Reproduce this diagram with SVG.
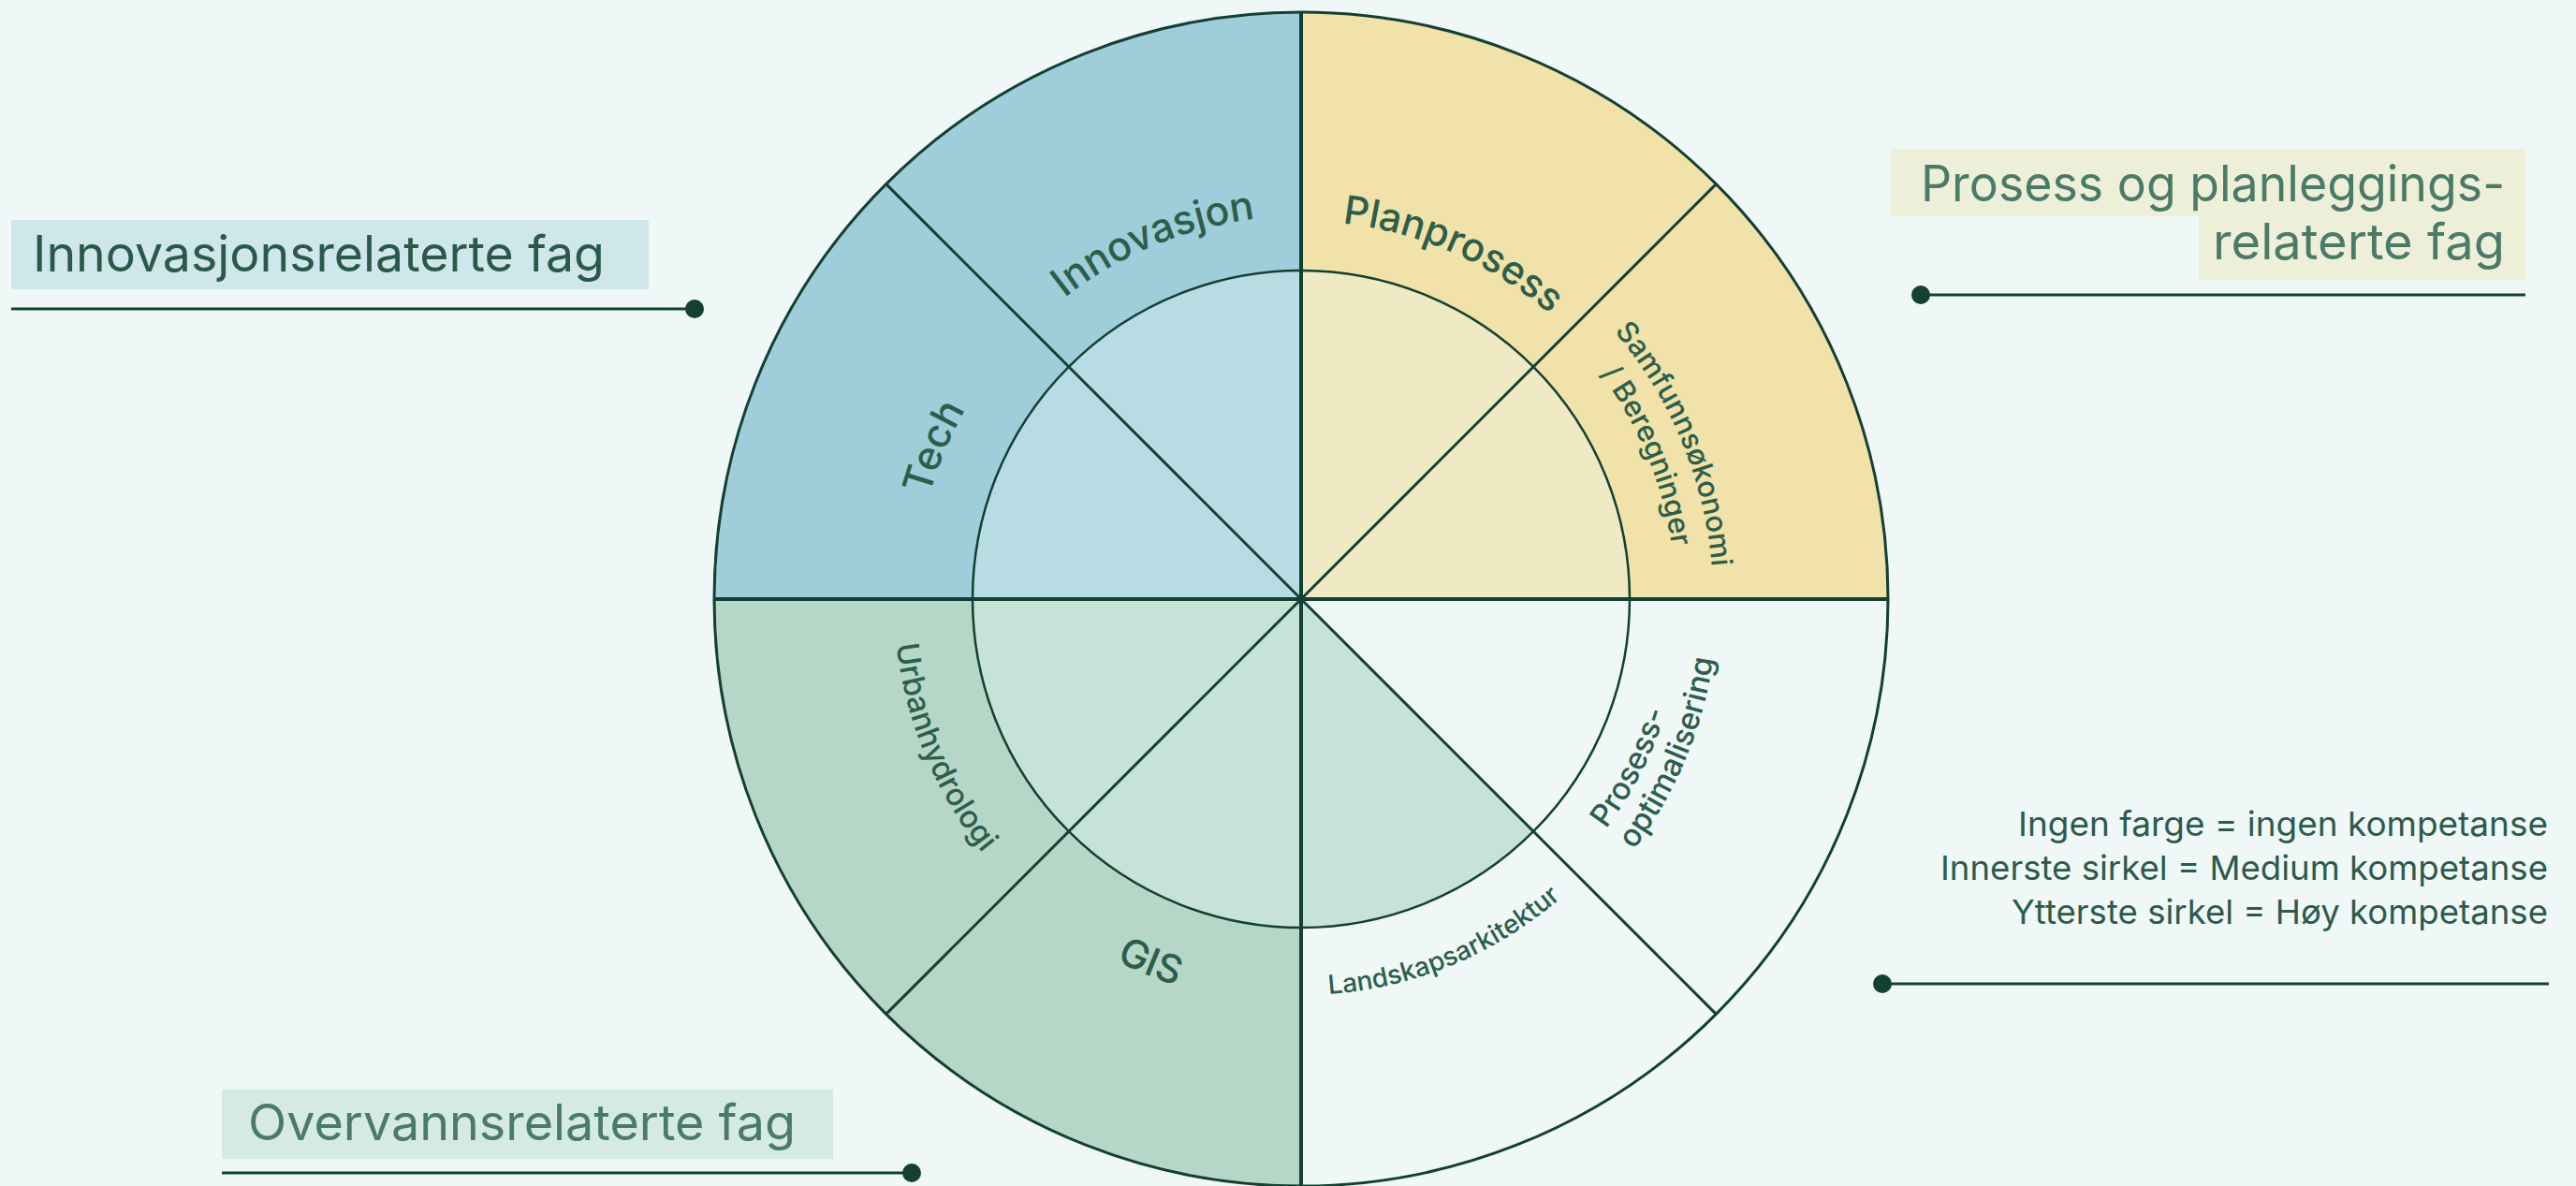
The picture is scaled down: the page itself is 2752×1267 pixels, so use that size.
<svg xmlns="http://www.w3.org/2000/svg" width="2752" height="1267" viewBox="0 0 2752 1267">
<style>
.bg{fill:#eff8f6}
.ln{stroke:#143f33;fill:none}
.dot{fill:#143f33}
.title{font-family:Inter,"Liberation Sans",sans-serif;font-size:53px;font-weight:400}
.legend{font-family:Inter,"Liberation Sans",sans-serif;font-size:36px;fill:#2d5a4b}
.lbl{font-family:Inter,"Liberation Sans",sans-serif;fill:#2d5e4c;font-weight:500}
</style>
<defs>
<path id="pInn" d="M984.5,586.6 A409,409 0 0 1 1639.0,315.5"/>
<path id="pPlan" d="M1144.1,319.5 A404,404 0 0 1 1790.5,587.3"/>
<path id="pTech" d="M1063.1,890.8 A412,412 0 0 1 1336.2,231.5"/>
<path id="pGIS" d="M959.7,696.7 A434,434 0 0 0 1654.2,984.3"/>
<path id="pSam1" d="M1447.4,203.8 A440,440 0 0 1 1739.1,907.8"/>
<path id="pSam2" d="M1442.2,243.4 A400,400 0 0 1 1707.3,883.5"/>
<path id="pPro1" d="M1715.8,885.5 A408,408 0 0 0 1702.5,377.7"/>
<path id="pPro2" d="M1745.4,907.8 A445,445 0 0 0 1730.9,354.0"/>
<path id="pUrb" d="M1044.9,375.2 A435,435 0 0 0 1333.2,1071.3"/>
<path id="pLand" d="M1132.5,975.6 A423,423 0 0 0 1809.4,695.2"/>
</defs>
<rect class="bg" x="0" y="0" width="2752" height="1267"/>

<g id="wheel">
<path d="M1390,640 L1390,13 A627,627 0 0 0 763,640 Z" fill="#9fcdd9"/>
<path d="M1390,640 L2017,640 A627,627 0 0 0 1390,13 Z" fill="#f0e2a8"/>
<path d="M1390,640 L763,640 A627,627 0 0 0 1390,1267 Z" fill="#b6d7c8"/>
<path d="M1390,640 L1390,289 A351,351 0 0 0 1039,640 Z" fill="#b8dce3"/>
<path d="M1390,640 L1741,640 A351,351 0 0 0 1390,289 Z" fill="#f0eac4"/>
<path d="M1390,640 L1039,640 A351,351 0 0 0 1390,991 Z" fill="#c7e2d7"/>
<path d="M1390,640 L1390,991 A351,351 0 0 0 1638.2,888.2 Z" fill="#c7e2d7"/>
</g>

<g id="connectors">
<circle class="ln" cx="1390" cy="640" r="627" stroke-width="3"/>
<circle class="ln" cx="1390" cy="640" r="351" stroke-width="2.5"/>
<path class="ln" d="M763,640 H2017 M1390,13 V1267" stroke-width="4"/>
<path class="ln" d="M946.65,196.65 L1833.35,1083.35 M1833.35,196.65 L946.65,1083.35" stroke-width="3"/>
<path class="ln" d="M12,330 H742" stroke-width="3"/>
<circle class="dot" cx="742" cy="330" r="10"/>
<path class="ln" d="M2052,315 H2698" stroke-width="3"/>
<circle class="dot" cx="2052" cy="315" r="10"/>
<path class="ln" d="M237,1253 H974" stroke-width="3"/>
<circle class="dot" cx="974" cy="1253" r="10"/>
<path class="ln" d="M2011,1051 H2723" stroke-width="3"/>
<circle class="dot" cx="2011" cy="1051" r="10"/>
</g>

<g id="label-innovasjon"><text class="lbl" font-size="43"><textPath href="#pInn" startOffset="50%" text-anchor="middle">Innovasjon</textPath></text></g>
<g id="label-planprosess"><text class="lbl" font-size="42"><textPath href="#pPlan" startOffset="51%" text-anchor="middle">Planprosess</textPath></text></g>
<g id="label-tech"><text class="lbl" font-size="43"><textPath href="#pTech" startOffset="50%" text-anchor="middle">Tech</textPath></text></g>
<g id="label-gis"><text class="lbl" font-size="42"><textPath href="#pGIS" startOffset="50%" text-anchor="middle">GIS</textPath></text></g>
<g id="label-samfunn">
<text class="lbl" font-size="31"><textPath href="#pSam1" startOffset="50%" text-anchor="middle">Samfunnsøkonomi</textPath></text>
<text class="lbl" font-size="31"><textPath href="#pSam2" startOffset="50%" text-anchor="middle">/ Beregninger</textPath></text>
</g>
<g id="label-prosessopt">
<text class="lbl" font-size="33"><textPath href="#pPro1" startOffset="0">Prosess-</textPath></text>
<text class="lbl" font-size="33"><textPath href="#pPro2" startOffset="0">optimalisering</textPath></text>
</g>
<g id="label-urbanhydrologi"><text class="lbl" font-size="33" font-weight="400"><textPath href="#pUrb" startOffset="50%" text-anchor="middle">Urbanhydrologi</textPath></text></g>
<g id="label-landskap"><text class="lbl" font-size="28"><textPath href="#pLand" startOffset="50%" text-anchor="middle">Landskapsarkitektur</textPath></text></g>

<g id="title-innovasjon">
<rect x="12" y="235" width="681" height="74" fill="#cfe6ea"/>
<text class="title" x="35" y="290" fill="#2a5849" textLength="611" lengthAdjust="spacingAndGlyphs">Innovasjonsrelaterte fag</text>
</g>
<g id="title-prosess">
<rect x="2020" y="159" width="678" height="72" fill="#eeefd9"/>
<rect x="2349" y="231" width="349" height="68" fill="#eeefd9"/>
<text class="title" x="2676" y="215" fill="#4a7b68" text-anchor="end" textLength="624" lengthAdjust="spacingAndGlyphs">Prosess og planleggings-</text>
<text class="title" x="2676" y="277" fill="#4a7b68" text-anchor="end" textLength="312" lengthAdjust="spacingAndGlyphs">relaterte fag</text>
</g>
<g id="title-overvann">
<rect x="237" y="1164" width="653" height="74" fill="#d5eae3"/>
<text class="title" x="265" y="1218" fill="#4a7b68" textLength="585" lengthAdjust="spacingAndGlyphs">Overvannsrelaterte fag</text>
</g>
<g id="legend">
<text class="legend" x="2722" y="893" text-anchor="end" textLength="566" lengthAdjust="spacingAndGlyphs">Ingen farge = ingen kompetanse</text>
<text class="legend" x="2722" y="940" text-anchor="end" textLength="649" lengthAdjust="spacingAndGlyphs">Innerste sirkel = Medium kompetanse</text>
<text class="legend" x="2722" y="987" text-anchor="end" textLength="573" lengthAdjust="spacingAndGlyphs">Ytterste sirkel = Høy kompetanse</text>
</g>
</svg>
